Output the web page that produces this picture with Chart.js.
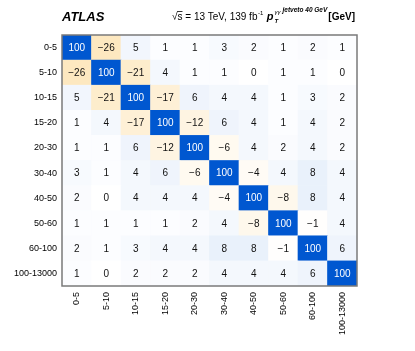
<!DOCTYPE html>
<html>
<head>
<meta charset="utf-8">
<script src="https://cdn.jsdelivr.net/npm/chart.js@4"></script>
<style>
html,body{margin:0;padding:0;background:#fff;}
#wrap{width:415px;height:351px;position:relative;}
</style>
</head>
<body>
<div id="wrap"><canvas id="c" width="415" height="351"></canvas></div>
<script>
const colLabels = ['0-5','5-10','10-15','15-20','20-30','30-40','40-50','50-60','60-100','100-13000'];
const rowLabels = ['0-5','5-10','10-15','15-20','20-30','30-40','40-50','50-60','60-100','100-13000'];
const row_0_5      = [100, -26,   5,   1,   1,   3,   2,   1,   2,   1];
const row_5_10     = [-26, 100, -21,   4,   1,   1,   0,   1,   1,   0];
const row_10_15    = [  5, -21, 100, -17,   6,   4,   4,   1,   3,   2];
const row_15_20    = [  1,   4, -17, 100, -12,   6,   4,   1,   4,   2];
const row_20_30    = [  1,   1,   6, -12, 100,  -6,   4,   2,   4,   2];
const row_30_40    = [  3,   1,   4,   6,  -6, 100,  -4,   4,   8,   4];
const row_40_50    = [  2,   0,   4,   4,   4,  -4, 100,  -8,   8,   4];
const row_50_60    = [  1,   1,   1,   1,   2,   4,  -8, 100,  -1,   4];
const row_60_100   = [  2,   1,   3,   4,   4,   8,   8,  -1, 100,   6];
const row_100_13000= [  1,   0,   2,   2,   2,   4,   4,   4,   6, 100];
const matrix = [row_0_5,row_5_10,row_10_15,row_15_20,row_20_30,row_30_40,row_40_50,row_50_60,row_60_100,row_100_13000];

function lerp(a,b,t){return a+(b-a)*t;}
function cellColor(v){
  let r,g,b;
  if (v >= 0) {
    if (v <= 10) { const t=v/10; r=lerp(255,228,t); g=lerp(255,237,t); b=lerp(255,250,t); }
    else { const t=(v-10)/90; r=lerp(228,0,t); g=lerp(237,87,t); b=lerp(250,208,t); }
  } else {
    const t=-v/100; r=lerp(255,247,t); g=lerp(255,167,t); b=lerp(255,13,t);
  }
  return 'rgb('+Math.round(r)+','+Math.round(g)+','+Math.round(b)+')';
}

// one stacked dataset per row, bottom row first
const datasets = [];
for (let i = matrix.length - 1; i >= 0; i--) {
  datasets.push({
    label: rowLabels[i],
    data: colLabels.map(() => 1),
    values: matrix[i],
    backgroundColor: matrix[i].map(cellColor),
    borderWidth: 0,
    barPercentage: 1,
    categoryPercentage: 1,
    yAxisID: 'y'
  });
}

const FONT = "'Liberation Sans', Arial, Helvetica, sans-serif";

const cellText = {
  id: 'cellText',
  afterDatasetsDraw(chart) {
    const ctx = chart.ctx;
    ctx.save();
    ctx.font = '10px ' + FONT;
    ctx.textAlign = 'center';
    ctx.textBaseline = 'middle';
    chart.data.datasets.forEach((ds, di) => {
      const meta = chart.getDatasetMeta(di);
      meta.data.forEach((el, j) => {
        const v = ds.values[j];
        const cy = (el.y + el.base) / 2;
        ctx.fillStyle = v >= 50 ? '#ffffff' : '#111111';
        const txt = v < 0 ? '\u2212' + Math.abs(v) : String(v);
        ctx.fillText(txt, el.x, cy + 0.5);
      });
    });
    // frame
    const a = chart.chartArea;
    ctx.strokeStyle = '#7a7a7a';
    ctx.lineWidth = 1.5;
    ctx.strokeRect(a.left, a.top, a.right - a.left, a.bottom - a.top);
    ctx.restore();
  },
  afterDraw(chart) {
    const ctx = chart.ctx;
    ctx.save();
    ctx.fillStyle = '#000';
    ctx.textBaseline = 'alphabetic';
    ctx.textAlign = 'left';
    // ATLAS
    ctx.font = 'italic bold 13px ' + FONT;
    ctx.fillText('ATLAS', 62, 21);
    // right title
    let x = 172; const by = 20;
    ctx.font = '10px ' + FONT;
    ctx.fillText('\u221A', x, by);
    x += ctx.measureText('\u221A').width;
    const sx = x;
    ctx.fillText('s', x, by);
    x += ctx.measureText('s').width;
    ctx.lineWidth = 0.8; ctx.strokeStyle = '#000';
    ctx.beginPath(); ctx.moveTo(sx - 0.5, by - 8.5); ctx.lineTo(x, by - 8.5); ctx.stroke();
    const t1 = ' = 13 TeV, 139 fb';
    ctx.fillText(t1, x, by);
    x += ctx.measureText(t1).width;
    ctx.font = '6px ' + FONT;
    ctx.fillText('-1', x + 0.5, by - 5);
    x += ctx.measureText('-1').width + 4;
    ctx.font = 'italic bold 11px ' + FONT;
    ctx.fillText('p', x, by);
    x += ctx.measureText('p').width + 1;
    ctx.font = 'italic bold 6px ' + FONT;
    ctx.fillText('T', x, by + 3);
    ctx.font = 'italic 6px ' + FONT;
    ctx.fillText('\u03B3\u03B3', x, by - 6);
    x += ctx.measureText('\u03B3\u03B3').width + 2;
    ctx.font = 'italic bold 6.5px ' + FONT;
    ctx.fillText('jetveto 40 GeV', x, by - 8);
    x += ctx.measureText('jetveto 40 GeV').width + 1;
    ctx.font = 'bold 10px ' + FONT;
    ctx.fillText('[GeV]', x, by);
    ctx.restore();
  }
};

new Chart(document.getElementById('c'), {
  type: 'bar',
  data: { labels: colLabels, datasets },
  options: {
    responsive: false,
    animation: false,
    devicePixelRatio: 1,
    layout: { padding: { top: 35, right: 58, left: 0, bottom: 0 } },
    plugins: { legend: { display: false }, tooltip: { enabled: false } },
    scales: {
      x: {
        type: 'category',
        stacked: true,
        offset: true,
        grid: { display: false, drawTicks: false },
        border: { display: false },
        ticks: { minRotation: 90, maxRotation: 90, padding: 6, color: '#000', font: { family: FONT, size: 9 } },
        afterFit(s) { s.height = 65; }
      },
      y: {
        type: 'linear',
        stacked: true,
        min: 0, max: 10,
        display: false
      },
      yl: {
        type: 'category',
        position: 'left',
        labels: rowLabels,
        offset: true,
        grid: { display: false, drawTicks: false },
        border: { display: false },
        ticks: { padding: 5, color: '#000', font: { family: FONT, size: 9 } },
        afterFit(s) { s.width = 62; }
      }
    }
  },
  plugins: [cellText]
});
</script>
</body>
</html>
